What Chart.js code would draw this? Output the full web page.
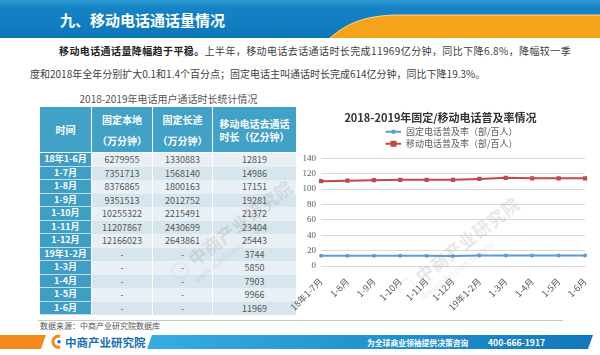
<!DOCTYPE html>
<html><head><meta charset="utf-8">
<script src="https://cdn.jsdelivr.net/npm/chart.js@4.4.0/dist/chart.umd.min.js"></script>
<style>
body{margin:0;width:600px;height:355px;overflow:hidden;background:#fff;font-family:"Noto Sans CJK SC",sans-serif;position:relative}
.abs{position:absolute}
#title{left:60px;top:10px;color:#fff;font-size:15px;font-weight:bold;line-height:20px}
.para{font-size:10px;color:#404040;line-height:14px;white-space:nowrap}
#p1{left:59px;top:44px;letter-spacing:0.4px}
#p2{left:30px;top:67px}
#tcap{left:40px;top:91px;width:257px;text-align:center;font-size:10px;color:#555}
#grid{left:40px;top:107px;width:257px;display:grid;grid-template-columns:52px 61px 60px 84px;grid-template-rows:46px;grid-auto-rows:13.5px}
#grid div{box-sizing:border-box;overflow:hidden;text-align:center;font-size:9px;line-height:13.5px;color:#555;border-right:1px solid #fff}
#grid div.h{background:#42a1c6;color:#fff;font-weight:bold;font-size:10px;line-height:13px;display:flex;flex-direction:column;justify-content:center;border-bottom:1px solid #fff}
#grid div.c0{background:#3f9ec4;color:#fff;font-weight:bold;border-bottom:1px solid #bfe0ee;line-height:12.5px}
#grid div.odd{background:#e9f0f5}
#grid div.even{background:#d6e5ee}
#src{left:40px;top:321px;font-size:8px;color:#555;line-height:10px}
#chartbox{left:290px;top:100px;width:310px;height:220px}
.wm{color:rgba(140,140,140,0.22);white-space:nowrap;transform-origin:0 0;pointer-events:none}
.wm .a{font-size:17px;font-weight:bold;letter-spacing:1px}
.wm .b{font-size:8px;margin-left:14px}
</style></head><body>
<svg class="abs" style="left:0;top:0" width="600" height="40">
<defs><linearGradient id="bg" x1="0" y1="0" x2="0" y2="1"><stop offset="0" stop-color="#2d9ad3"/><stop offset="0.2" stop-color="#1684c4"/><stop offset="1" stop-color="#0b79b9"/></linearGradient></defs>
<rect x="0" y="0" width="600" height="38" fill="url(#bg)"/>
<path d="M330 38 C348 22 368 15 400 15 L600 15 L600 38 Z" fill="#f6a21a"/>
<path d="M330 38 C348 22 368 15 400 15 L600 15" fill="none" stroke="#ffd98a" stroke-width="1"/>
</svg>
<div id="title" class="abs">九、移动电话通话量情况</div>
<div id="p1" class="abs para"><b style="color:#222">移动电话通话量降幅趋于平稳。</b>上半年，移动电话去话通话时长完成11969亿分钟，同比下降6.8%，降幅较一季</div>
<div id="p2" class="abs para">度和2018年全年分别扩大0.1和1.4个百分点；固定电话主叫通话时长完成614亿分钟，同比下降19.3%。</div>
<div id="tcap" class="abs">2018-2019年电话用户通话时长统计情况</div>
<div id="grid" class="abs">
<div class="h">时间</div>
<div class="h"><span>固定本地</span><span style="margin-top:8px">（万分钟）</span></div>
<div class="h"><span>固定长途</span><span style="margin-top:8px">（万分钟）</span></div>
<div class="h"><span>移动电话去通话</span><span>时长（亿分钟）</span></div>
</div>
<div id="src" class="abs">数据来源：中商产业研究院数据库</div>
<svg class="abs" style="left:0;top:318px" width="600" height="37">
<line x1="38" y1="2.5" x2="563" y2="2.5" stroke="#c8c8c8" stroke-width="1"/>
<defs><linearGradient id="fb" x1="0" y1="0" x2="1" y2="0"><stop offset="0" stop-color="#36ade0"/><stop offset="1" stop-color="#1178bb"/></linearGradient></defs>
<polygon points="0,17 46,17 41,31 0,31" fill="#f28b1c"/>
<path d="M60 18.5 A5.5 5.5 0 1 0 60 29" fill="none" stroke="#f28b1c" stroke-width="3"/>
<circle cx="59" cy="23.8" r="1.8" fill="#1a6fb5"/>
<text x="65" y="28.5" font-size="11.5" font-weight="bold" fill="#1a6fb5" font-family="Noto Sans CJK SC">中商产业研究院</text>
<polygon points="152,17 593,17 588,31 147,31" fill="url(#fb)"/>
<text x="367" y="27.5" font-size="7.8" font-weight="bold" fill="#fff" font-family="Noto Sans CJK SC">为全球商业领袖提供决策咨询</text>
<text x="488" y="27.5" font-size="8.6" font-weight="bold" fill="#fff" font-family="Noto Sans CJK SC">400-666-1917</text>
</svg>
<div id="chartbox" class="abs"><canvas id="c" width="310" height="220"></canvas></div>
<div class="abs wm" style="left:165px;top:265px;transform:rotate(-38deg)"><div class="a">◯ 中商产业研究院</div><div class="b">www.askci.com/reports/</div></div>
<div class="abs wm" style="left:392px;top:282px;transform:rotate(-38deg)"><div class="a">◯ 中商产业研究院</div><div class="b">www.askci.com/reports/</div></div>
<script>
// ---- table data ----
const tableTimes = ["18年1-6月","1-7月","1-8月","1-9月","1-10月","1-11月","1-12月","19年1-2月","1-3月","1-4月","1-5月","1-6月"];
const fixedLocal = ["6279955","7351713","8376865","9351513","10255322","11207867","12166023","-","-","-","-","-"];
const fixedLong = ["1330883","1568140","1800163","2012752","2215491","2430699","2643861","-","-","-","-","-"];
const mobileCall = ["12819","14986","17151","19281","21372","23404","25443","3744","5850","7903","9966","11969"];

// ---- chart data ----
const categories = ["18年1-7月","1-8月","1-9月","1-10月","1-11月","1-12月","19年1-2月","1-3月","1-4月","1-5月","1-6月"];
const fixedRate = [13.3,13.2,13.2,13.2,13.2,13.1,13.6,13.6,13.6,13.7,13.7];
const mobileRate = [110.2,110.8,111.4,112.0,112.0,112.0,113.1,114.5,113.8,113.8,113.8];
const seriesNames = ["固定电话普及率（部/百人）","移动电话普及率（部/百人）"];
const yMin = 0, yMax = 140, yStep = 20;

const grid = document.getElementById('grid');
tableTimes.forEach((t,i)=>{
  [t, fixedLocal[i], fixedLong[i], mobileCall[i]].forEach((v,j)=>{
    const d = document.createElement('div');
    d.textContent = v;
    d.className = j===0 ? 'c0' : (i%2===0 ? 'odd' : 'even');
    grid.appendChild(d);
  });
});

const BLUE = '#5b9bd5', RED = '#be4b48';
function legendIcon(color, shape){
  const c = document.createElement('canvas');
  c.width = 40; c.height = 8;
  const x = c.getContext('2d');
  x.strokeStyle = color; x.lineWidth = 2;
  x.beginPath(); x.moveTo(24,4); x.lineTo(40,4); x.stroke();
  x.fillStyle = color;
  if (shape==='rect') x.fillRect(29,1,6,6);
  else { x.beginPath(); x.arc(32,4,2.2,0,Math.PI*2); x.fill(); }
  return c;
}
const icons = [legendIcon(BLUE,'circle'), legendIcon(RED,'rect')];

const shiftPlugin = {
  id:'shiftLegend',
  afterLayout(chart){
    const L = chart.legend; L.left += 2; L.right += 2;
    const T = chart.titleBlock; T.left += 3; T.right += 3;
  }
};

new Chart(document.getElementById('c'), {
  type:'line',
  data:{
    labels: categories,
    datasets:[
      {label:seriesNames[0], data:fixedRate, borderColor:BLUE, backgroundColor:BLUE, borderWidth:2, pointStyle:'circle', pointRadius:2, pointBorderWidth:0, pointBackgroundColor:BLUE, tension:0},
      {label:seriesNames[1], data:mobileRate, borderColor:RED, backgroundColor:RED, borderWidth:2, pointStyle:'rect', pointRadius:3, pointBorderWidth:0, pointBackgroundColor:RED, tension:0}
    ]
  },
  options:{
    responsive:false, animation:false,
    layout:{padding:{left:0,right:15,top:0,bottom:0}},
    plugins:{
      title:{display:true, text:'2018-2019年固定/移动电话普及率情况', color:'#333', font:{family:'"Noto Sans CJK SC"', size:11, weight:'bold'}, padding:{top:11,bottom:0}},
      legend:{position:'top', labels:{usePointStyle:true, pointStyleWidth:40, padding:3, color:'#595959', font:{family:'"Noto Sans CJK SC"', size:9},
        generateLabels(chart){
          return chart.data.datasets.map((d,i)=>({text:d.label, pointStyle:icons[i], fillStyle:d.borderColor, strokeStyle:d.borderColor, lineWidth:0, hidden:false, datasetIndex:i, fontColor:'#595959'}));
        }}},
      tooltip:{enabled:false}
    },
    scales:{
      x:{grid:{display:false}, border:{display:true,color:'#d9d9d9'},
        ticks:{minRotation:45,maxRotation:45,color:'#595959',font:{family:'"Noto Sans CJK SC"',size:9},padding:2},
        afterFit(s){ s.height = 54; }},
      y:{min:yMin,max:yMax, ticks:{stepSize:yStep,color:'#595959',font:{family:'"Liberation Serif", serif',size:9},padding:5},
        grid:{color:'#d9d9d9',drawTicks:false}, border:{display:false},
        afterFit(s){ s.width = 31; }}
    }
  },
  plugins:[shiftPlugin]
});
</script>
</body></html>
